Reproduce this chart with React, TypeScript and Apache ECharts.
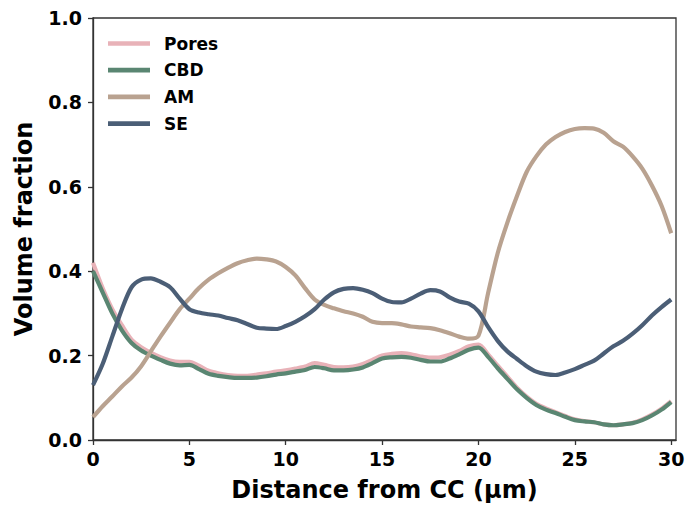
import React, { useEffect, useRef } from "react";
import * as echarts from "echarts";

const xValues = Array.from({ length: 61 }, (_, i) => i * 0.5);
const seriesNames = ["Pores", "CBD", "AM", "SE"];
const pores = [0.42, 0.36, 0.31, 0.272, 0.238, 0.22, 0.207, 0.196, 0.188, 0.185, 0.185, 0.176, 0.164, 0.158, 0.154, 0.152, 0.152, 0.155, 0.158, 0.162, 0.165, 0.169, 0.174, 0.182, 0.178, 0.173, 0.172, 0.174, 0.18, 0.19, 0.2, 0.204, 0.206, 0.203, 0.198, 0.195, 0.196, 0.202, 0.211, 0.222, 0.226, 0.203, 0.176, 0.15, 0.124, 0.103, 0.086, 0.075, 0.066, 0.057, 0.049, 0.045, 0.042, 0.037, 0.035, 0.037, 0.041, 0.049, 0.06, 0.074, 0.092];
const cbd = [0.40, 0.35, 0.30, 0.26, 0.23, 0.212, 0.2, 0.19, 0.181, 0.177, 0.178, 0.168, 0.157, 0.152, 0.149, 0.147, 0.147, 0.148, 0.151, 0.155, 0.158, 0.162, 0.166, 0.173, 0.17, 0.165, 0.165, 0.167, 0.172, 0.182, 0.193, 0.196, 0.197, 0.195, 0.19, 0.186, 0.186, 0.193, 0.203, 0.214, 0.219, 0.197, 0.17, 0.145, 0.12, 0.1, 0.083, 0.072, 0.064, 0.055, 0.047, 0.044, 0.042, 0.037, 0.035, 0.037, 0.04, 0.047, 0.058, 0.072, 0.09];
const am = [0.054, 0.08, 0.103, 0.127, 0.148, 0.175, 0.21, 0.245, 0.278, 0.31, 0.335, 0.36, 0.38, 0.395, 0.408, 0.419, 0.426, 0.43, 0.428, 0.423, 0.41, 0.39, 0.36, 0.333, 0.32, 0.312, 0.305, 0.3, 0.292, 0.28, 0.277, 0.277, 0.274, 0.269, 0.267, 0.265, 0.26, 0.253, 0.245, 0.24, 0.247, 0.348, 0.443, 0.515, 0.578, 0.635, 0.672, 0.7, 0.718, 0.73, 0.737, 0.739, 0.738, 0.728, 0.708, 0.695, 0.672, 0.643, 0.603, 0.555, 0.49];
const se = [0.13, 0.18, 0.245, 0.31, 0.362, 0.38, 0.383, 0.375, 0.362, 0.335, 0.31, 0.302, 0.298, 0.295, 0.289, 0.284, 0.275, 0.266, 0.264, 0.263, 0.27, 0.28, 0.293, 0.31, 0.333, 0.35, 0.358, 0.36, 0.356, 0.348, 0.335, 0.327, 0.326, 0.335, 0.347, 0.355, 0.352, 0.338, 0.328, 0.323, 0.305, 0.268, 0.235, 0.21, 0.192, 0.175, 0.162, 0.156, 0.154, 0.16, 0.168, 0.178, 0.188, 0.205, 0.222, 0.235, 0.252, 0.272, 0.295, 0.315, 0.333];
const xTicks = [0, 5, 10, 15, 20, 25, 30];
const colors = ["#e8b2b8", "#5a8672", "#b9a290", "#4b5e76"];

export default function App() {
  const ref = useRef<HTMLDivElement>(null);
  useEffect(() => {
    if (!ref.current) return;
    const chart = echarts.init(ref.current, undefined, { renderer: "svg" });
    const font = "DejaVu Sans";
    const allData = [pores, cbd, am, se];
    chart.setOption({
      animation: false,
      backgroundColor: "#ffffff",
      grid: {
        left: 93,
        right: 14,
        top: 18,
        bottom: 69,
        show: true,
        borderColor: "#333333",
        borderWidth: 1.3,
        backgroundColor: "transparent",
      },
      legend: {
        orient: "vertical",
        left: 103,
        top: 28.5,
        itemWidth: 42,
        itemHeight: 20,
        itemGap: 6.7,
        data: seriesNames.map((n, i) => ({
          name: n,
          icon: "path://M0,5 L40,5 L40,9.5 L0,9.5 Z",
          itemStyle: { color: colors[i] },
        })),
        textStyle: {
          fontFamily: font,
          fontWeight: "bold",
          fontSize: 17,
          lineHeight: 20,
          color: "#000",
          padding: [0, 0, 0, 9],
        },
      },
      xAxis: {
        type: "value",
        min: 0,
        max: 30.25,
        interval: 5,
        name: "Distance from CC (μm)",
        nameLocation: "middle",
        nameGap: 38,
        nameTextStyle: { fontFamily: font, fontWeight: "bold", fontSize: 24, color: "#000" },
        axisLine: { lineStyle: { color: "#333333", width: 1.3 } },
        axisTick: { inside: false, length: 5, lineStyle: { color: "#333333", width: 1.3 }, customValues: xTicks },
        axisLabel: {
          fontFamily: font,
          fontWeight: "bold",
          fontSize: 19,
          color: "#000",
          margin: 9,
          customValues: xTicks,
        },
        splitLine: { show: false },
      },
      yAxis: {
        type: "value",
        min: 0,
        max: 1,
        interval: 0.2,
        name: "Volume fraction",
        nameLocation: "middle",
        nameGap: 57,
        nameTextStyle: { fontFamily: font, fontWeight: "bold", fontSize: 24, color: "#000" },
        axisLine: { show: true, lineStyle: { color: "#333333", width: 1.3 } },
        axisTick: { show: true, inside: false, length: 5, lineStyle: { color: "#333333", width: 1.3 } },
        axisLabel: {
          fontFamily: font,
          fontWeight: "bold",
          fontSize: 19,
          color: "#000",
          margin: 11,
          formatter: (v: number) => v.toFixed(1),
        },
        splitLine: { show: false },
      },
      series: seriesNames.map((n, i) => ({
        name: n,
        type: "line",
        data: xValues.map((x, j) => [x, allData[i][j]]),
        showSymbol: false,
        symbol: "none",
        smooth: 0.3,
        lineStyle: { color: colors[i], width: 4.2 },
        itemStyle: { color: colors[i] },
        z: 2 + i,
      })),
    });
    return () => chart.dispose();
  }, []);
  return <div ref={ref} style={{ width: 690, height: 509, position: "absolute", left: 0, top: 0 }} />;
}
